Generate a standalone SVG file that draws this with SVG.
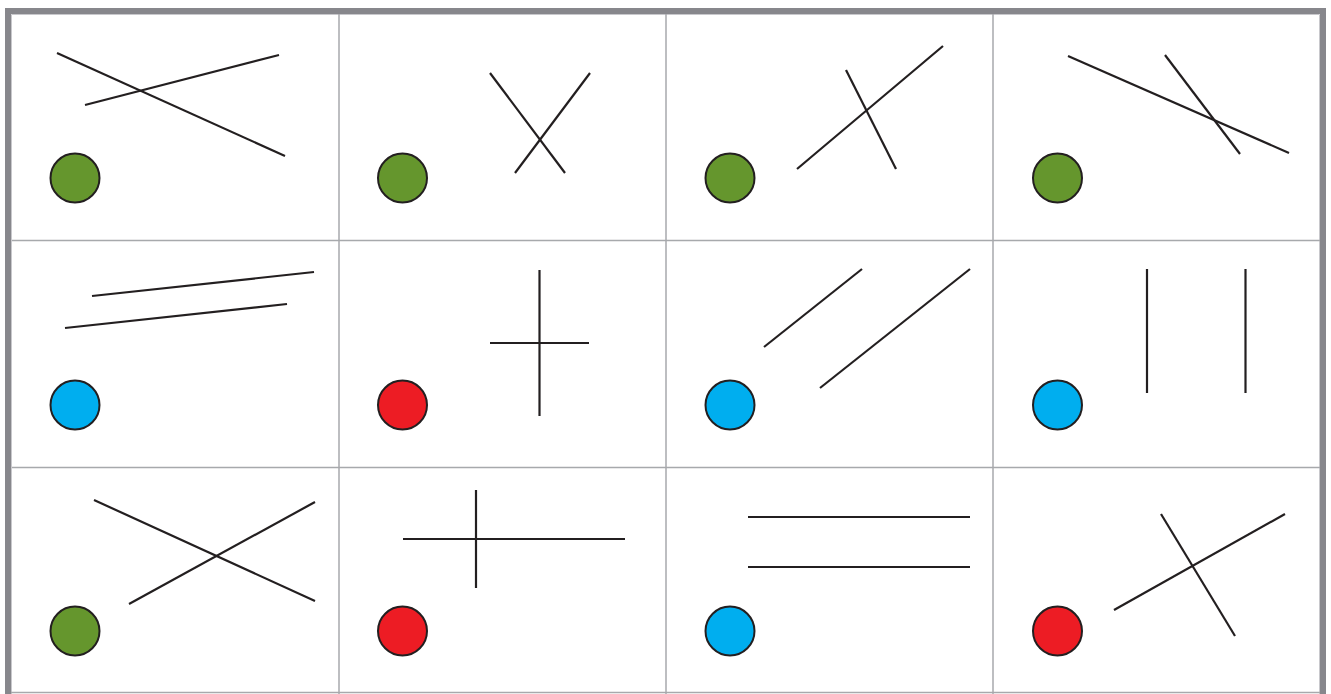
<svg xmlns="http://www.w3.org/2000/svg" width="1331" height="694" viewBox="0 0 1331 694">
<style>
.grid{stroke:#a7a9ac;stroke-width:1.5;fill:none}
.ln{stroke:#231f20;stroke-width:2.2;fill:none}
.dot{stroke:#231f20;stroke-width:2}
.g{fill:#65962d}.b{fill:#00aeef}.r{fill:#ed1c24}
</style>
<rect x="0" y="0" width="1331" height="694" fill="#fff"/>
<g id="frame">
<path d="M8 700 V11 H1323 V700" fill="none" stroke="#87878c" stroke-width="6"/>
<path d="M11.5 700 V14.5 H1319.5 V700" fill="none" stroke="#c8c8cc" stroke-width="1"/>
<line class="grid" x1="11" y1="692.5" x2="1320" y2="692.5"/>
</g>
<g id="grid">
<line class="grid" x1="339" y1="14" x2="339" y2="694"/>
<line class="grid" x1="666" y1="14" x2="666" y2="694"/>
<line class="grid" x1="993" y1="14" x2="993" y2="694"/>
<line class="grid" x1="12" y1="240.5" x2="1320" y2="240.5"/>
<line class="grid" x1="12" y1="467.5" x2="1320" y2="467.5"/>
</g>
<g id="connectors">
<line class="ln" x1="57" y1="53" x2="285" y2="156"/>
<line class="ln" x1="85" y1="105" x2="279" y2="55"/>
<line class="ln" x1="490" y1="73" x2="565" y2="173"/>
<line class="ln" x1="590" y1="73" x2="515" y2="173"/>
<line class="ln" x1="797" y1="169" x2="943" y2="46"/>
<line class="ln" x1="846" y1="70" x2="896" y2="169"/>
<line class="ln" x1="1068" y1="56" x2="1289" y2="153"/>
<line class="ln" x1="1165" y1="55" x2="1240" y2="154"/>
<line class="ln" x1="92" y1="296" x2="314" y2="272"/>
<line class="ln" x1="65" y1="328" x2="287" y2="304"/>
<line class="ln" x1="539.5" y1="270" x2="539.5" y2="416"/>
<line class="ln" x1="490" y1="343" x2="589" y2="343"/>
<line class="ln" x1="764" y1="347" x2="862" y2="269"/>
<line class="ln" x1="820" y1="388" x2="970" y2="269"/>
<line class="ln" x1="1147" y1="269" x2="1147" y2="393"/>
<line class="ln" x1="1245.5" y1="269" x2="1245.5" y2="393"/>
<line class="ln" x1="94" y1="500" x2="315" y2="601"/>
<line class="ln" x1="129" y1="604" x2="315" y2="502"/>
<line class="ln" x1="403" y1="539" x2="625" y2="539"/>
<line class="ln" x1="476" y1="490" x2="476" y2="588"/>
<line class="ln" x1="748" y1="517" x2="970" y2="517"/>
<line class="ln" x1="748" y1="567" x2="970" y2="567"/>
<line class="ln" x1="1114" y1="610" x2="1285" y2="514"/>
<line class="ln" x1="1161" y1="514" x2="1235" y2="636"/>
</g>
<g id="n1"><circle class="dot g" cx="75" cy="178" r="24.5"/></g>
<g id="n2"><circle class="dot g" cx="402.5" cy="178" r="24.5"/></g>
<g id="n3"><circle class="dot g" cx="730" cy="178" r="24.5"/></g>
<g id="n4"><circle class="dot g" cx="1057.5" cy="178" r="24.5"/></g>
<g id="n5"><circle class="dot b" cx="75" cy="405" r="24.5"/></g>
<g id="n6"><circle class="dot r" cx="402.5" cy="405" r="24.5"/></g>
<g id="n7"><circle class="dot b" cx="730" cy="405" r="24.5"/></g>
<g id="n8"><circle class="dot b" cx="1057.5" cy="405" r="24.5"/></g>
<g id="n9"><circle class="dot g" cx="75" cy="631" r="24.5"/></g>
<g id="n10"><circle class="dot r" cx="402.5" cy="631" r="24.5"/></g>
<g id="n11"><circle class="dot b" cx="730" cy="631" r="24.5"/></g>
<g id="n12"><circle class="dot r" cx="1057.5" cy="631" r="24.5"/></g>
</svg>
